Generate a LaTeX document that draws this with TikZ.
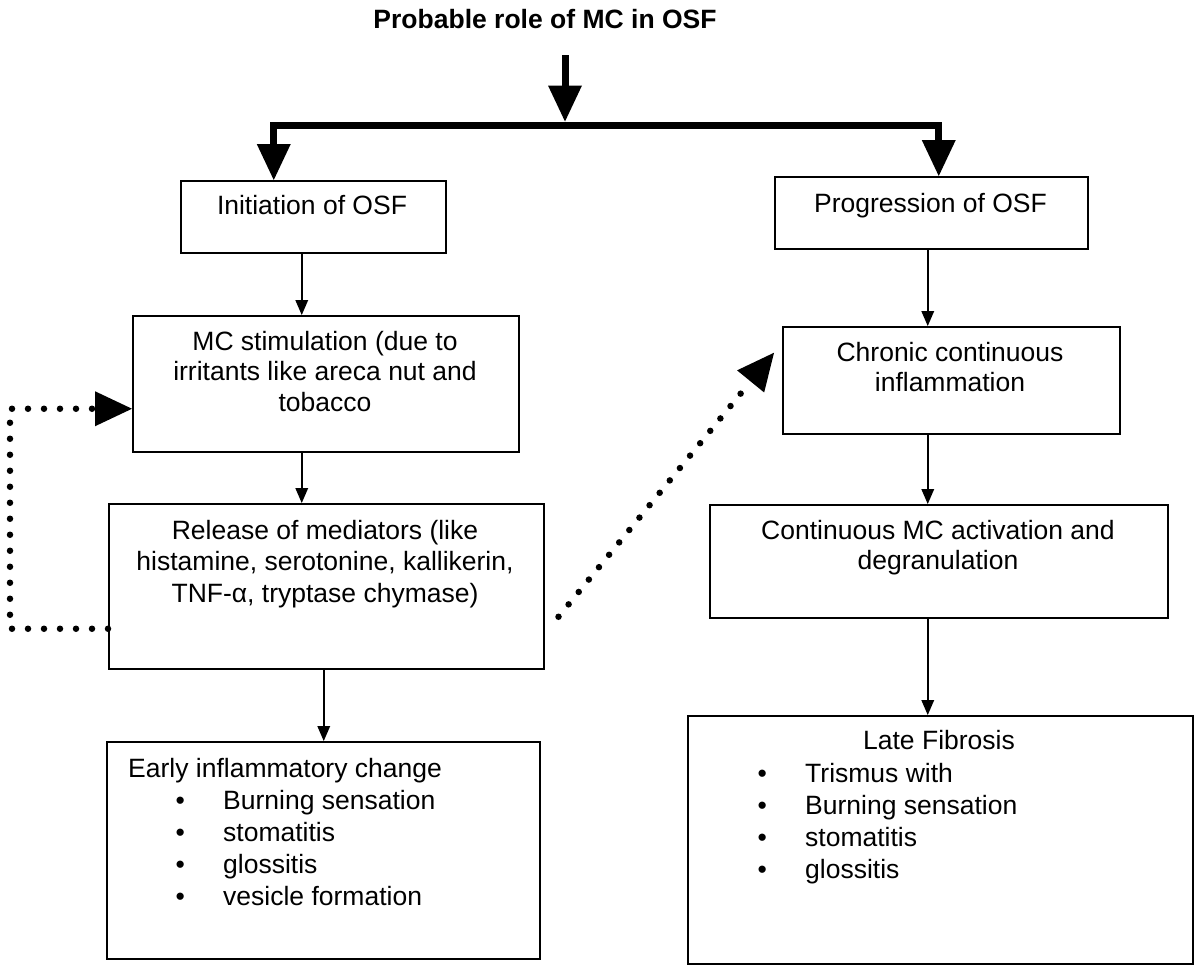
\documentclass[tikz,border=0pt]{standalone}
\usepackage{fontspec}
\setmainfont{Liberation Sans}
\usetikzlibrary{arrows.meta}

\tikzset{
  box/.style={draw, line width=1.5pt, inner sep=0pt},
  txt/.style={font=\fontsize{26.5}{31}\selectfont, inner sep=0pt},
  flow/.style={line width=1.5pt, -{Triangle[width=13pt,length=15pt,line width=0pt]}},
  trunk/.style={line width=7pt, line join=miter, -{Triangle[width=34pt,length=36pt,line width=0pt]}},
  dots/.style={line width=6.5pt, line cap=round, dash pattern=on 0pt off 16pt,
    -{Triangle[width=35pt,length=37pt,line width=0pt]}},
}
\newcommand{\bul}{\makebox[47.5pt][l]{\textbullet}}

\begin{document}
\begin{tikzpicture}[x=1pt, y=-1pt]
    \useasboundingbox (0,0) rectangle (1200,972);

    % Title
    \node[txt, font=\fontsize{26.5}{31}\selectfont\bfseries, anchor=base] (title) at (545,28) {Probable role of MC in OSF};

    % Boxes
    \node[box, minimum width=265pt, minimum height=72pt, anchor=north west] (init) at (180,180) {};
    \node[box, minimum width=313pt, minimum height=72pt, anchor=north west] (prog) at (774,176) {};
    \node[box, minimum width=386pt, minimum height=136pt, anchor=north west] (mcstim) at (132,315) {};
    \node[box, minimum width=435pt, minimum height=165pt, anchor=north west] (release) at (108,503) {};
    \node[box, minimum width=433pt, minimum height=217pt, anchor=north west] (early) at (106,741) {};
    \node[box, minimum width=337pt, minimum height=107pt, anchor=north west] (chronic) at (782,326) {};
    \node[box, minimum width=458pt, minimum height=113pt, anchor=north west] (contmc) at (709,504) {};
    \node[box, minimum width=505pt, minimum height=248pt, anchor=north west] (late) at (687,715) {};

    % Box texts (base = last line)
    \node[txt, anchor=base] (init-t) at (312,214) {Initiation of OSF};
    \node[txt, anchor=base] (prog-t) at (930.5,212) {Progression of OSF};
    \node[txt, font=\fontsize{26.5}{30.5}\selectfont, align=center, anchor=base] (mcstim-t) at (325,411) {MC stimulation (due to\\irritants like areca nut and\\tobacco};
    \node[txt, font=\fontsize{26.5}{31.5}\selectfont, align=center, anchor=base] (release-t) at (325,602) {Release of mediators (like\\histamine, serotonine, kallikerin,\\TNF-α, tryptase chymase)};
    \node[txt, font=\fontsize{26.5}{32}\selectfont, align=left, anchor=base west] (early-t) at (128,905) {Early inflammatory change\\\hspace*{47.5pt}\bul Burning sensation\\\hspace*{47.5pt}\bul stomatitis\\\hspace*{47.5pt}\bul glossitis\\\hspace*{47.5pt}\bul vesicle formation};
    \node[txt, font=\fontsize{26.5}{30}\selectfont, align=center, anchor=base] (chronic-t) at (950,391) {Chronic continuous\\inflammation};
    \node[txt, font=\fontsize{26.5}{30}\selectfont, align=center, anchor=base] (contmc-t) at (938,569) {Continuous MC activation and\\degranulation};
    \node[txt, anchor=base] (late-t) at (939,749) {Late Fibrosis};
    \node[txt, font=\fontsize{26.5}{32}\selectfont, align=left, anchor=base west] (late-l) at (757.5,878) {\bul Trismus with\\\bul Burning sensation\\\bul stomatitis\\\bul glossitis};

    % --- Split arrows ---
    \coordinate (top) at (565,55);
    \coordinate (split) at (565,125);
    \draw[trunk] (top) -- ([yshift=3.5pt]split);
    \draw[trunk] (split) -| ([xshift=-39.5pt]init.north);
    \draw[trunk] (split) -| ([xshift=7.5pt]prog.north);

    % --- Left column ---
    \draw[flow] ([xshift=-11.5pt]init.south) -- ([xshift=-11.5pt]init.south |- mcstim.north);
    \draw[flow] ([xshift=-24pt]mcstim.south) -- ([xshift=-24pt]mcstim.south |- release.north);
    \draw[flow] ([xshift=-2.5pt]release.south) -- ([xshift=-2.5pt]release.south |- early.north);

    % --- Right column ---
    \draw[flow] ([xshift=-3.5pt]prog.south) -- ([xshift=-3.5pt]prog.south |- chronic.north);
    \draw[flow] ([xshift=-23.5pt]chronic.south) -- ([xshift=-23.5pt]chronic.south |- contmc.north);
    \draw[flow] ([xshift=-11pt]contmc.south) -- ([xshift=-11pt]contmc.south |- late.north);

    % --- Feedback (dotted) ---
    \draw[dots] ([yshift=-42.5pt]release.west) -- ++(-98,0) |- ([yshift=-25pt]mcstim.west);
    \draw[dots] ([xshift=14pt,yshift=-30.5pt]release.east) -- ([xshift=-8pt,yshift=27.5pt]chronic.west);
\end{tikzpicture}
\end{document}
